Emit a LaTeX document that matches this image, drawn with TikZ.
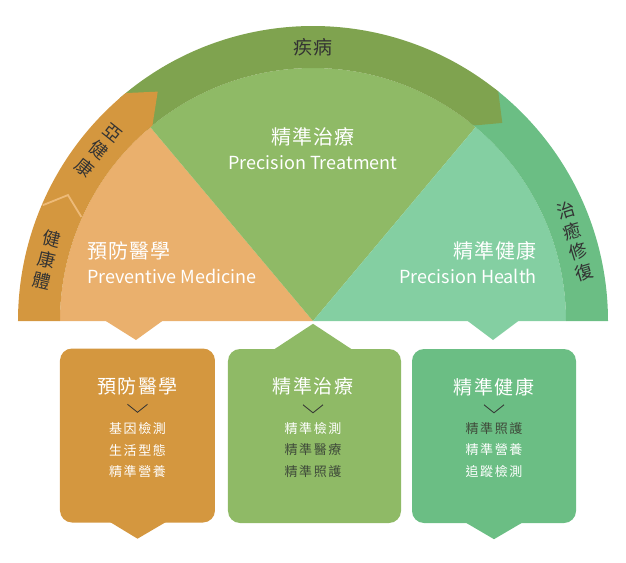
\documentclass[tikz,border=0pt]{standalone}
\usepackage{fontspec}
\setmainfont{Noto Sans CJK TC}
\usetikzlibrary{positioning}
\definecolor{ringOrange}{HTML}{D4973F}
\definecolor{sectOrange}{HTML}{EAB06D}
\definecolor{ringDark}{HTML}{7FA34F}
\definecolor{sectGreen}{HTML}{8FBA66}
\definecolor{ringGreen}{HTML}{6BBE84}
\definecolor{sectMint}{HTML}{84CFA2}
\definecolor{sepOrange}{HTML}{EDBA78}
\definecolor{inkDark}{HTML}{333333}
\definecolor{itemDark}{HTML}{3F4A3A}

\begin{document}
\begin{tikzpicture}[x=1pt, y=1pt,
  ringtxt/.style={text=inkDark, font=\fontsize{18}{21.5}\selectfont, align=center, inner sep=0pt},
  secttitle/.style={text=white, font=\fontsize{20}{23}\selectfont\addfontfeature{LetterSpace=6}, inner sep=0pt},
  secteng/.style={text=white, font=\fontsize{18}{21}\selectfont, inner sep=0pt},
  panel/.style={rounded corners=12pt, minimum width=#1, minimum height=174pt, inner sep=0pt},
  boxtitle/.style={text=white, font=\fontsize{19}{22}\selectfont\addfontfeature{LetterSpace=8}, inner sep=0pt},
  boxitem/.style={text=white, font=\fontsize{13}{21.5}\selectfont\addfontfeature{LetterSpace=12}, align=center, inner sep=0pt},
  chev/.style={draw=inkDark, line width=0.8pt},
  sepline/.style={draw=sepOrange, line width=1.8pt}]
  \useasboundingbox (-313,-241) rectangle (313,321);
  % inner sectors
  \fill[sectOrange] (0,0) -- (180:253) arc (180:130:253) -- cycle;
  \fill[sectGreen] (0,0) -- (130:253) arc (130:50:253) -- cycle;
  \fill[sectMint] (0,0) -- (50:253) arc (50:0:253) -- cycle;
  % outer ring, drawn right to left so the arrow ends overlap
  \fill[ringGreen] (0:253) -- (0:295) arc (0:52:295) -- (52:253) arc (52:0:253) -- cycle;
  \fill[ringDark] (131:253) -- (131:295) arc (131:51.1:295) -- (46.3:274) -- (50.6:253) arc (50.6:131:253) -- cycle;
  \fill[ringOrange] (180:253) -- (180:295) arc (180:129.4:295) -- (124.1:277) -- (129.4:253) arc (129.4:180:253) -- cycle;
  \draw[sepline] (155.8:254) -- (152.8:275.5) -- (156.8:294);
  % pointers under the half disc
  \fill[sectOrange] (-208,0.5) -- (-177,-19) -- (-150,0.5) -- cycle;
  \fill[sectMint] (154,0.5) -- (180,-19) -- (206,0.5) -- cycle;
  % ring labels
  \node[ringtxt, font=\fontsize{19}{22}\selectfont\addfontfeature{LetterSpace=6}] (jibing) at (0,274) {疾病};
  \node[ringtxt, font=\fontsize{18}{22.5}\selectfont, rotate=-38.5] (yajiankang) at (141.5:274) {亞\\健\\康};
  \node[ringtxt, rotate=-13] (jiankangti) at (167:273) {健\\康\\體};
  \node[ringtxt, rotate=17] (zhiyu) at (16.9:274) {治\\癒\\修\\復};
  % sector labels
  \node[secttitle] (pttitle) at (0,184) {精準治療};
  \node[secteng] (pteng) at (0,158) {Precision Treatment};
  \node[secttitle, anchor=west] (pmtitle) at (-226,70) {預防醫學};
  \node[secteng, anchor=west] (pmeng) at (-226,45) {Preventive Medicine};
  \node[secttitle, anchor=east] (phtitle) at (224,70) {精準健康};
  \node[secteng, anchor=east] (pheng) at (224,45) {Precision Health};
  % boxes
  \node[panel=155pt, fill=ringOrange] (pmbox) at (-175.5,-114.5) {};
  \node[panel=173pt, fill=sectGreen] (ptbox) at (1.5,-115) {};
  \node[panel=164pt, fill=ringGreen] (phbox) at (181,-115) {};
  \fill[ringOrange] ([xshift=-28pt,yshift=1pt]pmbox.south) -- ([yshift=-16pt]pmbox.south) -- ([xshift=29pt,yshift=1pt]pmbox.south) -- cycle;
  \fill[sectGreen] ([xshift=-41pt,yshift=-1pt]ptbox.north) -- ([xshift=-1.5pt,yshift=25pt]ptbox.north) -- ([xshift=38pt,yshift=-1pt]ptbox.north) -- cycle;
  \fill[ringGreen] ([xshift=-29pt,yshift=1pt]phbox.south) -- ([yshift=-16pt]phbox.south) -- ([xshift=29pt,yshift=1pt]phbox.south) -- cycle;
  % box texts
  \node[boxtitle] (pmhead) at ([yshift=-38pt]pmbox.north) {預防醫學};
  \draw[chev] ([shift={(-10pt,-56pt)}]pmbox.north) -- ++(10,-8) -- ++(10,8);
  \node[boxitem] (pmlist) at ([yshift=-102pt]pmbox.north) {基因檢測\\生活型態\\精準營養};
  \node[boxtitle] (pthead) at ([shift={(-1.5pt,-38pt)}]ptbox.north) {精準治療};
  \draw[chev] ([shift={(-11.5pt,-56pt)}]ptbox.north) -- ++(10,-8) -- ++(10,8);
  \node[boxitem] (ptlist) at ([shift={(-1.5pt,-101pt)}]ptbox.north) {精準檢測\\\textcolor{itemDark}{精準醫療}\\\textcolor{itemDark}{精準照護}};
  \node[boxtitle] (phhead) at ([yshift=-38pt]phbox.north) {精準健康};
  \draw[chev] ([shift={(-10pt,-56pt)}]phbox.north) -- ++(10,-8) -- ++(10,8);
  \node[boxitem] (phlist) at ([yshift=-101pt]phbox.north) {\textcolor{itemDark}{精準照護}\\精準營養\\追蹤檢測};
\end{tikzpicture}
\end{document}
